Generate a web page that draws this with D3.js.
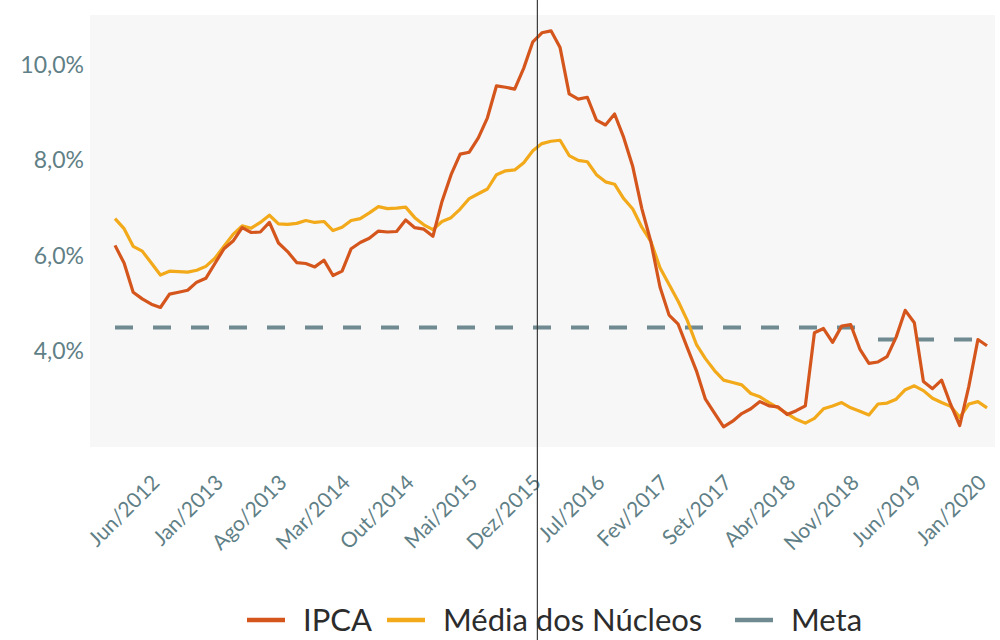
<!DOCTYPE html>
<html>
<head>
<meta charset="utf-8">
<script src="https://cdn.jsdelivr.net/npm/d3@7"></script>
<style>
  body { margin: 0; background: #fff; }
  svg { display: block; font-family: Lato, "Open Sans", sans-serif; }
</style>
</head>
<body>
<div id="chart"></div>
<script>
// meses de jan/2012 a jan/2020
const months = [
  "Jan/2012","Fev/2012","Mar/2012","Abr/2012","Mai/2012","Jun/2012","Jul/2012","Ago/2012","Set/2012","Out/2012","Nov/2012","Dez/2012",
  "Jan/2013","Fev/2013","Mar/2013","Abr/2013","Mai/2013","Jun/2013","Jul/2013","Ago/2013","Set/2013","Out/2013","Nov/2013","Dez/2013",
  "Jan/2014","Fev/2014","Mar/2014","Abr/2014","Mai/2014","Jun/2014","Jul/2014","Ago/2014","Set/2014","Out/2014","Nov/2014","Dez/2014",
  "Jan/2015","Fev/2015","Mar/2015","Abr/2015","Mai/2015","Jun/2015","Jul/2015","Ago/2015","Set/2015","Out/2015","Nov/2015","Dez/2015",
  "Jan/2016","Fev/2016","Mar/2016","Abr/2016","Mai/2016","Jun/2016","Jul/2016","Ago/2016","Set/2016","Out/2016","Nov/2016","Dez/2016",
  "Jan/2017","Fev/2017","Mar/2017","Abr/2017","Mai/2017","Jun/2017","Jul/2017","Ago/2017","Set/2017","Out/2017","Nov/2017","Dez/2017",
  "Jan/2018","Fev/2018","Mar/2018","Abr/2018","Mai/2018","Jun/2018","Jul/2018","Ago/2018","Set/2018","Out/2018","Nov/2018","Dez/2018",
  "Jan/2019","Fev/2019","Mar/2019","Abr/2019","Mai/2019","Jun/2019","Jul/2019","Ago/2019","Set/2019","Out/2019","Nov/2019","Dez/2019",
  "Jan/2020"
];

const ipca = [
  6.22, 5.85, 5.24, 5.10, 4.99, 4.92, 5.20, 5.24, 5.28, 5.45, 5.53, 5.84,
  6.15, 6.31, 6.59, 6.49, 6.50, 6.70, 6.27, 6.09, 5.86, 5.84, 5.77, 5.91,
  5.59, 5.68, 6.15, 6.28, 6.37, 6.52, 6.50, 6.51, 6.75, 6.59, 6.56, 6.41,
  7.14, 7.70, 8.13, 8.17, 8.47, 8.89, 9.56, 9.53, 9.49, 9.93, 10.48, 10.67,
  10.71, 10.36, 9.39, 9.28, 9.32, 8.84, 8.74, 8.97, 8.48, 7.87, 6.99, 6.29,
  5.35, 4.76, 4.57, 4.08, 3.60, 3.00, 2.71, 2.42, 2.54, 2.70, 2.80, 2.95,
  2.86, 2.84, 2.68, 2.76, 2.86, 4.39, 4.48, 4.19, 4.53, 4.56, 4.05, 3.75,
  3.78, 3.89, 4.30, 4.86, 4.60, 3.37, 3.22, 3.40, 2.89, 2.45, 3.27, 4.25,
  4.12
];

const nucleos = [
  6.78, 6.57, 6.20, 6.10, 5.85, 5.60, 5.68, 5.67, 5.66, 5.70, 5.78, 5.95,
  6.20, 6.45, 6.63, 6.58, 6.70, 6.85, 6.67, 6.66, 6.68, 6.74, 6.70, 6.72,
  6.53, 6.60, 6.74, 6.78, 6.90, 7.03, 6.99, 7.00, 7.02, 6.80, 6.65, 6.55,
  6.72, 6.80, 6.98, 7.20, 7.30, 7.40, 7.70, 7.78, 7.80, 7.95, 8.20, 8.35,
  8.40, 8.42, 8.10, 8.00, 7.97, 7.70, 7.55, 7.50, 7.20, 6.98, 6.60, 6.30,
  5.75, 5.40, 5.05, 4.65, 4.15, 3.85, 3.60, 3.40, 3.35, 3.30, 3.12, 3.05,
  2.93, 2.82, 2.70, 2.58, 2.50, 2.60, 2.80, 2.86, 2.93, 2.82, 2.75, 2.67,
  2.90, 2.92, 3.00, 3.20, 3.28, 3.18, 3.02, 2.93, 2.85, 2.62, 2.90, 2.95,
  2.82
];

const meta = months.map((m) => (m.endsWith("2019") || m.endsWith("2020") ? 4.25 : 4.5));

const tickIndex = [5, 12, 19, 26, 33, 40, 47, 54, 61, 68, 75, 82, 89, 96];
const yTicks = [4, 6, 8, 10];

const series = [
  { name: "IPCA", values: ipca, color: "#d5561d", dash: null },
  { name: "Média dos Núcleos", values: nucleos, color: "#f2a91a", dash: null },
  { name: "Meta", values: meta, color: "#6f8a90", dash: "18,20" },
];

const width = 1000, height = 640;
const plot = { left: 90, right: 995, top: 15, bottom: 447 };

const svg = d3.select("#chart").append("svg")
  .attr("width", width).attr("height", height);

const x = d3.scaleLinear().domain([0, months.length - 1]).range([115, 987]);
const y = d3.scaleLinear().domain([2, 11]).range([plot.bottom, 17]);

svg.append("rect")
  .attr("x", plot.left).attr("y", plot.top)
  .attr("width", plot.right - plot.left).attr("height", plot.bottom - plot.top)
  .attr("fill", "#f7f7f7");

// eixo y
const yAxis = svg.append("g")
  .attr("transform", `translate(${plot.left - 6},0)`)
  .call(d3.axisLeft(y).tickValues(yTicks).tickSize(0)
    .tickFormat((d) => d3.format(".1f")(d).replace(".", ",") + "%"));
yAxis.select(".domain").remove();
yAxis.selectAll("text")
  .attr("fill", "#5f8086").attr("font-size", 23).attr("font-family", "Lato")
  .attr("x", 0);

// eixo x
const xAxis = svg.append("g")
  .attr("transform", `translate(0,${plot.bottom})`)
  .call(d3.axisBottom(x).tickValues(tickIndex).tickSize(0)
    .tickFormat((i) => months[i]));
xAxis.select(".domain").remove();
xAxis.selectAll("text")
  .attr("fill", "#5f8086").attr("font-size", 21).attr("font-family", "Lato")
  .attr("text-anchor", "end")
  .attr("x", 0).attr("y", 0).attr("dy", 0)
  .attr("transform", "translate(0,37) rotate(-45)");

const line = d3.line()
  .defined((d) => d != null)
  .x((d, i) => x(i))
  .y((d) => y(d));

// a meta é desenhada por trechos de mesmo valor
function segments(s) {
  if (!s.dash) return [s.values];
  const levels = Array.from(new Set(s.values));
  return levels.map((v) => s.values.map((d) => (d === v ? d : null)));
}

const seriesG = svg.append("g").selectAll("g")
  .data(series.slice().reverse())
  .enter()
  .append("g");

seriesG.selectAll("path")
  .data((s) => segments(s).map((vals) => ({ s, vals })))
  .enter()
  .append("path")
  .attr("d", (d) => line(d.vals))
  .attr("fill", "none")
  .attr("stroke", (d) => d.s.color)
  .attr("stroke-width", (d) => (d.s.dash ? 4 : 3.2))
  .attr("stroke-dasharray", (d) => d.s.dash)
  .attr("stroke-linejoin", "round");

// linha vertical escura (dobra do original)
svg.append("line")
  .attr("x1", x(46.5)).attr("x2", x(46.5))
  .attr("y1", 0).attr("y2", height)
  .attr("stroke", "#3a3a3a").attr("stroke-width", 1.2);

// legenda
const legendX = [247, 387, 735];
const legend = svg.append("g").selectAll("g")
  .data(series)
  .enter()
  .append("g")
  .attr("transform", (d, i) => `translate(${legendX[i]},620)`);
legend.append("line")
  .attr("x1", 0).attr("x2", 38)
  .attr("stroke", (d) => d.color).attr("stroke-width", 4.5);
legend.append("text")
  .attr("x", 56).attr("dy", "0.36em")
  .attr("font-size", 31).attr("font-family", "Lato")
  .attr("fill", "#2c2c2c")
  .text((d) => d.name);
</script>
</body>
</html>
